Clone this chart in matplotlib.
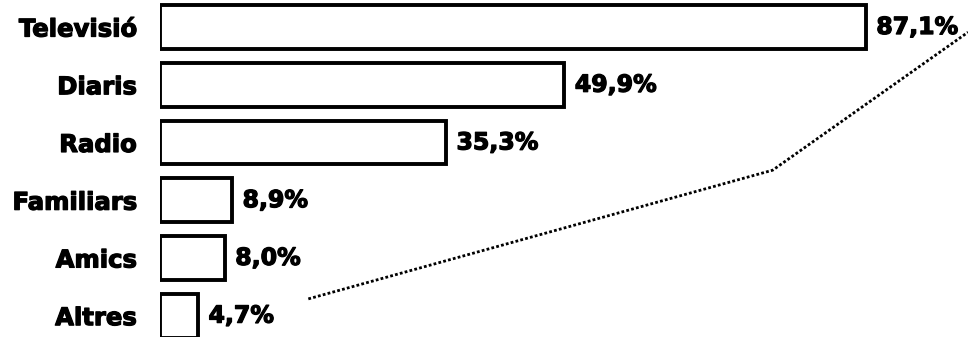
import matplotlib
matplotlib.use("Agg")
import matplotlib.pyplot as plt
import matplotlib.patheffects as pe

categories = ["Televisió", "Diaris", "Radio", "Familiars", "Amics", "Altres"]
values = [87.1, 49.9, 35.3, 8.9, 8.0, 4.7]
value_labels = ["87,1%", "49,9%", "35,3%", "8,9%", "8,0%", "4,7%"]
# decorative dotted leader line (x in %, y in category index units)
leader_x = [18.3, 75.6, 99.7]
leader_y = [4.71, 2.48, 0.09]

plt.rcParams['font.family'] = ['DejaVu Sans']
heavy = [pe.withStroke(linewidth=0.9, foreground="black")]

fig = plt.figure(figsize=(9.68, 3.37), dpi=100)
ax = fig.add_axes([160/968, 0, (968-160)/968, 1])

ypos = list(range(len(categories)))
ax.barh(ypos, values, height=0.76, color="white", edgecolor="black", linewidth=2.8)

for y, v, lab in zip(ypos, values, value_labels):
    ax.annotate(lab, (v, y), xytext=(7.5, 0), textcoords="offset points",
                ha="left", va="center", fontsize=17, fontweight="bold", color="black",
                path_effects=heavy)

ax.plot(leader_x, leader_y, linestyle=(0, (1, 0.8)), color="black", linewidth=2.0, clip_on=False)

ax.set_xlim(0, 99.7)
ax.set_ylim(5.37, -0.468)
ax.set_yticks(ypos)
ax.set_yticklabels(categories, fontsize=17.5, fontweight="bold")
for t in ax.get_yticklabels():
    t.set_path_effects(heavy)
ax.tick_params(axis="y", length=0, pad=17)
ax.set_xticks([])
for s in ax.spines.values():
    s.set_visible(False)
ax.patch.set_alpha(0)

fig.savefig("out.png", dpi=100)
